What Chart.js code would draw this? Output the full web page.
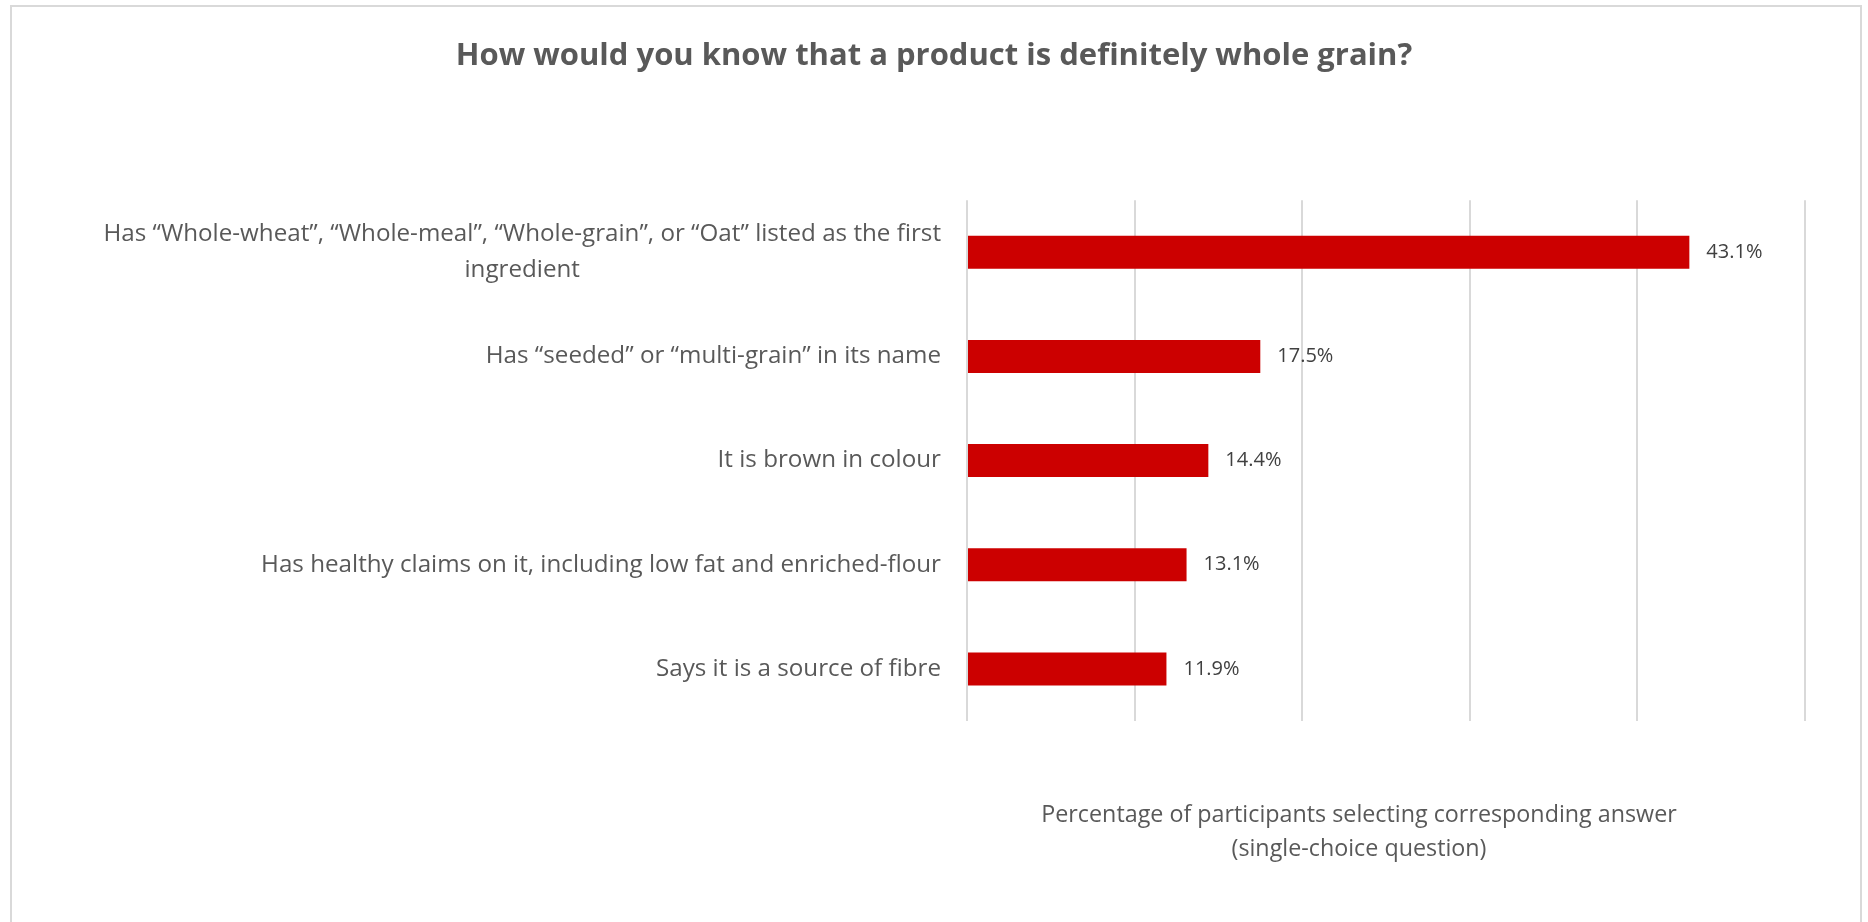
<!DOCTYPE html>
<html>
<head>
<meta charset="utf-8">
<script src="https://cdn.jsdelivr.net/npm/chart.js"></script>
<style>
  html, body { margin: 0; padding: 0; background: #fff; overflow: hidden; }
  .frame { position: absolute; left: 10px; top: 5px; width: 1852px; height: 1000px;
           border: 2px solid #d9d9d9; box-sizing: border-box; }
  canvas { position: absolute; left: 0; top: 0; }
</style>
</head>
<body>
<div class="frame"></div>
<canvas id="chart" width="1868" height="922"></canvas>
<script>
const answers = [
    ['Has \u201cWhole-wheat\u201d, \u201cWhole-meal\u201d, \u201cWhole-grain\u201d, or \u201cOat\u201d listed as the first', 'ingredient'],
    'Has \u201cseeded\u201d or \u201cmulti-grain\u201d in its name',
    'It is brown in colour',
    'Has healthy claims on it, including low fat and enriched-flour',
    'Says it is a source of fibre'
];
const percentages = [43.1, 17.5, 14.4, 13.1, 11.9];
const axisMax = 50;
const axisStep = 10;
const chartTitle = 'How would you know that a product is definitely whole grain?';
const axisTitle = ['Percentage of participants selecting corresponding answer', '(single-choice question)'];

const textColor = '#595959';

// draws the answer labels (centred lines, right aligned block), the value labels and the axis title
const labelsPlugin = {
    id: 'labelsPlugin',
    afterDatasetsDraw(chart) {
        const ctx = chart.ctx;
        const area = chart.chartArea;
        const x = chart.scales.x;
        const y = chart.scales.y;
        ctx.save();
        ctx.textBaseline = 'middle';

        ctx.font = '24.2px "Open Sans"';
        ctx.fillStyle = textColor;
        ctx.textAlign = 'center';
        answers.forEach((lab, i) => {
            const lines = Array.isArray(lab) ? lab : [lab];
            const w = Math.max(...lines.map(l => ctx.measureText(l).width));
            const cx = area.left - 26 - w / 2;
            const yc = y.getPixelForValue(i);
            lines.forEach((l, j) => {
                ctx.fillText(l, cx, yc + (j - (lines.length - 1) / 2) * 36);
            });
        });

        ctx.font = '20px "Open Sans"';
        ctx.fillStyle = '#404040';
        ctx.textAlign = 'left';
        percentages.forEach((v, i) => {
            ctx.fillText(v.toFixed(1) + '%', x.getPixelForValue(v) + 17, y.getPixelForValue(i));
        });

        ctx.font = '23.3px "Open Sans"';
        ctx.fillStyle = textColor;
        ctx.textAlign = 'center';
        const ax = (area.left + area.right) / 2 - 27;
        axisTitle.forEach((l, j) => {
            ctx.fillText(l, ax, area.bottom + 94 + j * 34.5);
        });
        ctx.restore();
    }
};

const ctx = document.getElementById('chart').getContext('2d');
const chart = new Chart(ctx, {
    type: 'bar',
    data: {
        labels: answers,
        datasets: [{
            data: percentages,
            backgroundColor: '#cc0000',
            borderWidth: 0,
            categoryPercentage: 1,
            barPercentage: 0.317
        }]
    },
    options: {
        indexAxis: 'y',
        responsive: false,
        animation: false,
        events: [],
        layout: {
            padding: { top: 0, left: 63, right: 63, bottom: 201 }
        },
        scales: {
            x: {
                min: 0,
                max: axisMax,
                ticks: { display: false, stepSize: axisStep },
                grid: { color: '#d9d9d9', lineWidth: 2, drawTicks: false },
                border: { display: false }
            },
            y: {
                ticks: { display: false },
                grid: { display: false, drawTicks: false },
                border: { display: false },
                afterFit(scale) {
                    scale.width = 904;
                }
            }
        },
        plugins: {
            legend: { display: false },
            tooltip: { enabled: false },
            title: {
                display: true,
                text: chartTitle,
                color: textColor,
                font: { family: '"Open Sans"', size: 31, weight: 'bold', lineHeight: 1.2 },
                padding: { top: 38, bottom: 125 }
            }
        }
    },
    plugins: [labelsPlugin]
});
</script>
</body>
</html>
